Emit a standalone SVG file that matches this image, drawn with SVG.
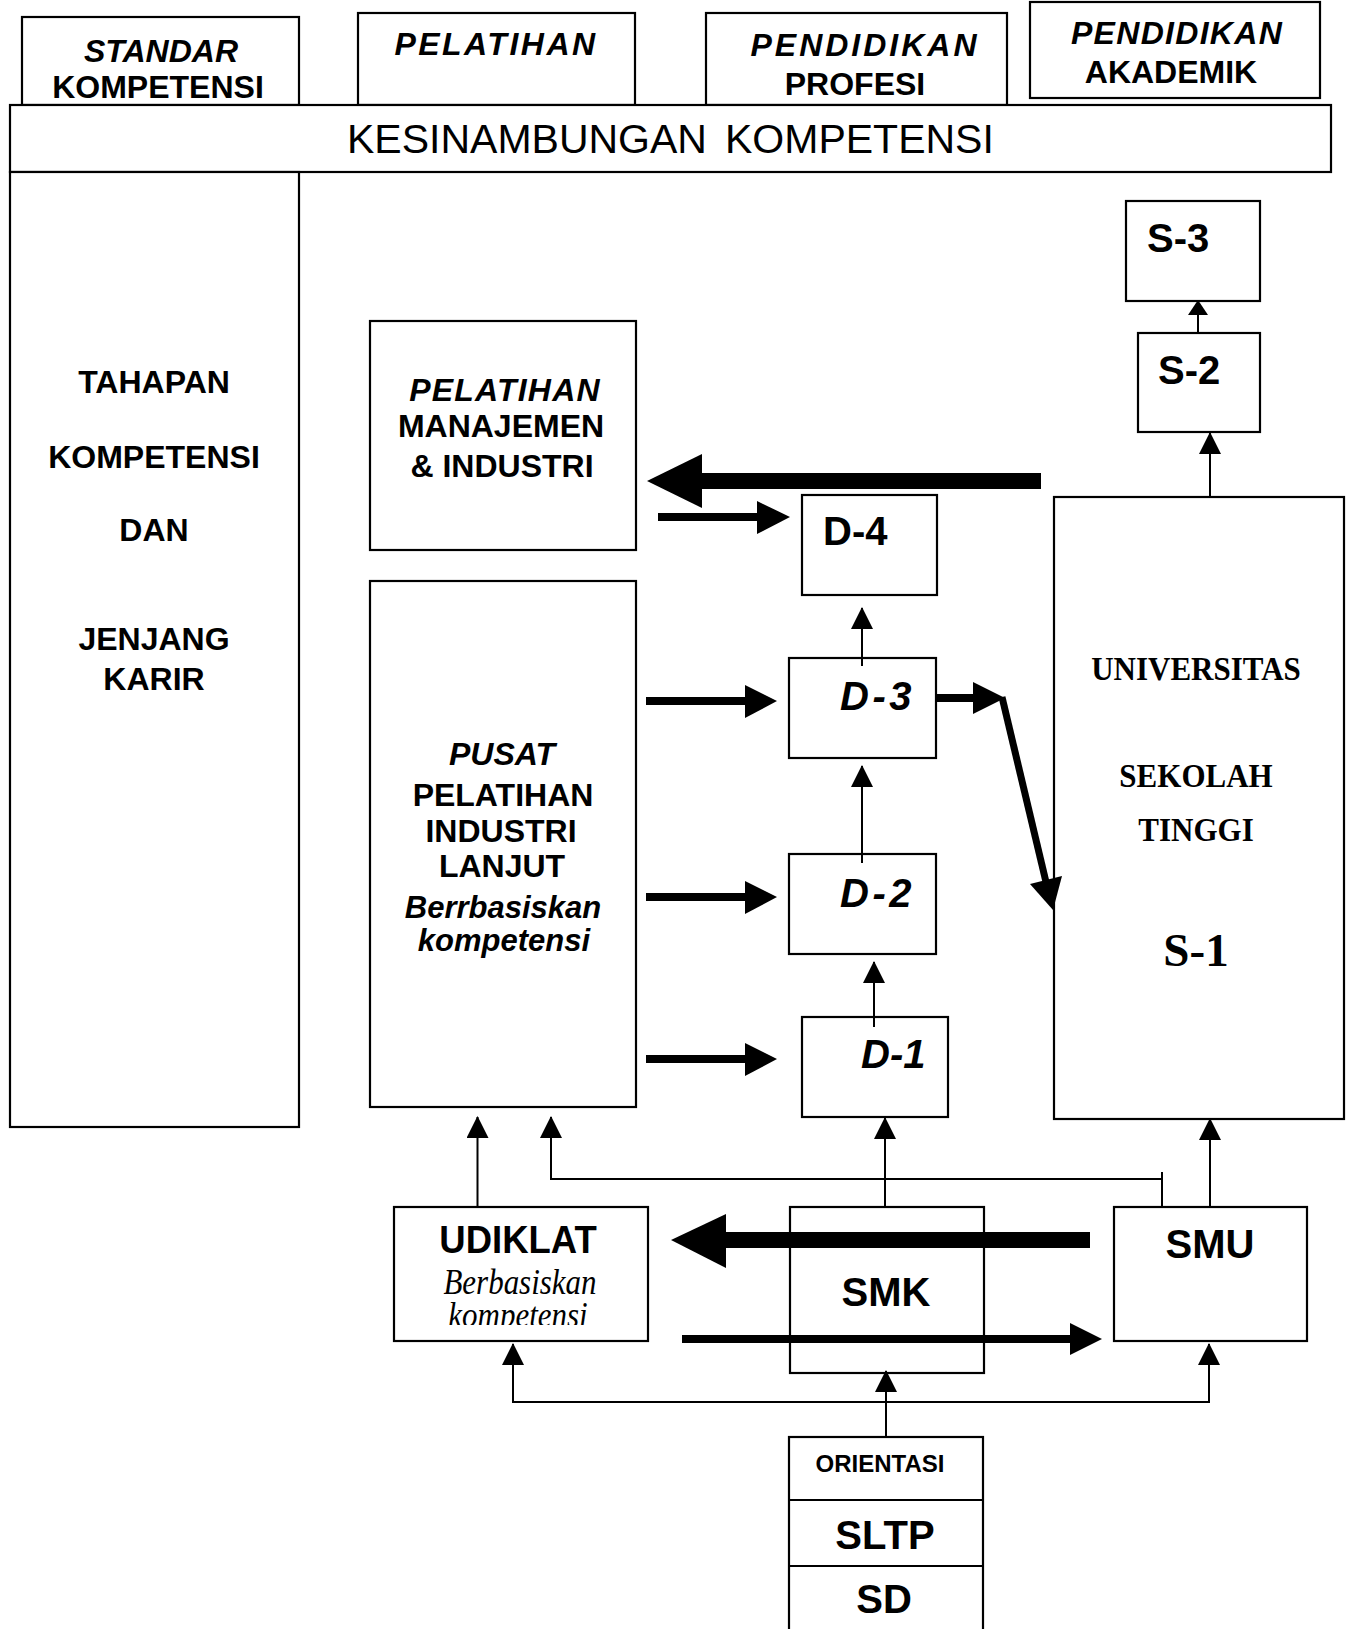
<svg xmlns="http://www.w3.org/2000/svg" width="1348" height="1629" viewBox="0 0 1348 1629">
<style>
.box{fill:#fff;stroke:#000;stroke-width:2.2}
.ln{fill:none;stroke:#000;stroke-width:2}
.thick{fill:#000;stroke:none}
.s{font-family:"Liberation Sans",Arial,sans-serif;font-weight:bold;fill:#000}
.r{font-family:"Liberation Sans",Arial,sans-serif;font-weight:normal;fill:#000}
.i{font-style:italic}
.t{font-family:"Liberation Serif","Times New Roman",serif;font-weight:bold;fill:#000}
.ti{font-family:"Liberation Serif","Times New Roman",serif;font-style:italic;fill:#000}
.c{text-anchor:middle}
.f32{font-size:32px}
.f40{font-size:40px}
</style>
<defs>
<marker id="ah" markerUnits="userSpaceOnUse" markerWidth="22" markerHeight="22" refX="21" refY="11" orient="auto">
<path d="M0,0 L22,11 L0,22 z" fill="#000"/>
</marker>
<marker id="ahs" markerUnits="userSpaceOnUse" markerWidth="15" markerHeight="20" refX="14" refY="10" orient="auto">
<path d="M0,0 L15,10 L0,20 z" fill="#000"/>
</marker>
<clipPath id="udclip"><rect x="394" y="1207" width="254" height="118"/></clipPath>
</defs>

<g id="standar">
<rect class="box" x="22" y="17" width="277" height="88"/>
<text class="s i f32 c" x="161" y="62">STANDAR</text>
<text class="s f32 c" x="158" y="98">KOMPETENSI</text>
</g>
<g id="pelatihan-top">
<rect class="box" x="358" y="13" width="277" height="92"/>
<text class="s i f32 c" x="496" y="55" letter-spacing="2.5">PELATIHAN</text>
</g>
<g id="pendidikan-profesi">
<rect class="box" x="706" y="13" width="301" height="92"/>
<text class="s i f32 c" x="865" y="56" letter-spacing="3">PENDIDIKAN</text>
<text class="s f32 c" x="855" y="95">PROFESI</text>
</g>
<g id="pendidikan-akademik">
<rect class="box" x="1030" y="2" width="290" height="96"/>
<text class="s i f32 c" x="1177" y="44" letter-spacing="1.3">PENDIDIKAN</text>
<text class="s f32 c" x="1171" y="83">AKADEMIK</text>
</g>
<g id="kesinambungan">
<rect class="box" x="10" y="105" width="1321" height="67"/>
<text class="r" font-size="41" y="153"><tspan x="347">KESINAMBUNGAN</tspan><tspan x="725">KOMPETENSI</tspan></text>
</g>
<g id="tahapan">
<rect class="box" x="10" y="172" width="289" height="955"/>
<text class="s f32 c" x="154" y="393">TAHAPAN</text>
<text class="s f32 c" x="154" y="468">KOMPETENSI</text>
<text class="s f32 c" x="154" y="541">DAN</text>
<text class="s f32 c" x="154" y="650">JENJANG</text>
<text class="s f32 c" x="154" y="690">KARIR</text>
</g>
<g id="pelatihan-manajemen">
<rect class="box" x="370" y="321" width="266" height="229"/>
<text class="s i f32 c" x="505" y="401" letter-spacing="1.2">PELATIHAN</text>
<text class="s f32 c" x="501" y="437">MANAJEMEN</text>
<text class="s f32 c" x="502" y="477">&amp; INDUSTRI</text>
</g>
<g id="pusat">
<rect class="box" x="370" y="581" width="266" height="526"/>
<text class="s i f32 c" x="502" y="765">PUSAT</text>
<text class="s f32 c" x="503" y="806">PELATIHAN</text>
<text class="s f32 c" x="501" y="842">INDUSTRI</text>
<text class="s f32 c" x="502" y="877">LANJUT</text>
<text class="s i c" font-size="31" x="503" y="918">Berrbasiskan</text>
<text class="s i c" font-size="31" x="504" y="951">kompetensi</text>
</g>
<g id="d4">
<rect class="box" x="802" y="495" width="135" height="100"/>
<text class="s f40" x="823" y="545">D-4</text>
</g>
<g id="d3">
<rect class="box" x="789" y="658" width="147" height="100"/>
<text class="s i f40" x="840" y="710" letter-spacing="3.5">D-3</text>
</g>
<g id="d2">
<rect class="box" x="789" y="854" width="147" height="100"/>
<text class="s i f40" x="840" y="907" letter-spacing="3.5">D-2</text>
</g>
<g id="d1">
<rect class="box" x="802" y="1017" width="146" height="100"/>
<text class="s i f40" x="861" y="1068">D-1</text>
</g>
<g id="s3">
<rect class="box" x="1126" y="201" width="134" height="100"/>
<text class="s f40" x="1147" y="252">S-3</text>
</g>
<g id="s2">
<rect class="box" x="1138" y="333" width="122" height="99"/>
<text class="s f40" x="1158" y="384">S-2</text>
</g>
<g id="universitas">
<rect class="box" x="1054" y="497" width="290" height="622"/>
<text class="t c" font-size="31" transform="translate(1196,680) scale(1,1.08)">UNIVERSITAS</text>
<text class="t c" font-size="31" transform="translate(1196,787) scale(1,1.08)">SEKOLAH</text>
<text class="t c" font-size="31" transform="translate(1196,841) scale(1,1.08)">TINGGI</text>
<text class="t c" font-size="47" x="1196" y="966">S-1</text>
</g>
<g id="udiklat">
<rect class="box" x="394" y="1207" width="254" height="134"/>
<text class="s c" font-size="36.5" transform="translate(518,1253) scale(1,1.07)">UDIKLAT</text>
<g clip-path="url(#udclip)">
<text class="ti c" font-size="31" transform="translate(520,1294) scale(1,1.15)">Berbasiskan</text>
<text class="ti c" font-size="31" transform="translate(518,1327) scale(1,1.15)">kompetensi</text>
</g>
</g>
<g id="smk">
<rect class="box" x="790" y="1207" width="194" height="166"/>
<text class="s f40 c" x="886" y="1306">SMK</text>
</g>
<g id="smu">
<rect class="box" x="1114" y="1207" width="193" height="134"/>
<text class="s f40 c" x="1210" y="1258">SMU</text>
</g>
<g id="orientasi-sltp-sd">
<rect class="box" x="789" y="1437" width="194" height="210"/>
<line class="ln" x1="789" y1="1500" x2="983" y2="1500"/>
<line class="ln" x1="789" y1="1566" x2="983" y2="1566"/>
<text class="s c" font-size="24" x="880" y="1472">ORIENTASI</text>
<text class="s f40 c" x="885" y="1549">SLTP</text>
<text class="s f40 c" x="884" y="1613">SD</text>
</g>

<g id="connectors">
<line class="ln" x1="1198" y1="333" x2="1198" y2="301" marker-end="url(#ahs)"/>
<line class="ln" x1="1210" y1="497" x2="1210" y2="433" marker-end="url(#ah)"/>
<line class="ln" x1="862" y1="666" x2="862" y2="608" marker-end="url(#ah)"/>
<line class="ln" x1="862" y1="863" x2="862" y2="766" marker-end="url(#ah)"/>
<line class="ln" x1="874" y1="1027" x2="874" y2="962" marker-end="url(#ah)"/>
<line class="ln" x1="477.5" y1="1207" x2="477.5" y2="1117" marker-end="url(#ah)"/>
<path class="ln" d="M1162,1207 V1172"/>
<path class="ln" d="M1162,1179 H551 V1117" marker-end="url(#ah)"/>
<line class="ln" x1="885" y1="1207" x2="885" y2="1118" marker-end="url(#ah)"/>
<line class="ln" x1="1210" y1="1207" x2="1210" y2="1119" marker-end="url(#ah)"/>
<line class="ln" x1="886" y1="1437" x2="886" y2="1371" marker-end="url(#ah)"/>
<path class="ln" d="M886,1402 H513 V1344" marker-end="url(#ah)"/>
<path class="ln" d="M886,1402 H1209 V1344" marker-end="url(#ah)"/>
<rect class="thick" x="701" y="473" width="340" height="16"/>
<polygon class="thick" points="647,481 702,454 702,508"/>
<rect class="thick" x="658" y="513" width="100" height="8"/>
<polygon class="thick" points="757,501 790,517 757,534"/>
<rect class="thick" x="646" y="697" width="100" height="8"/>
<polygon class="thick" points="745,685 777,701 745,718"/>
<rect class="thick" x="646" y="893" width="100" height="8"/>
<polygon class="thick" points="745,881 777,897 745,914"/>
<rect class="thick" x="646" y="1055" width="100" height="8"/>
<polygon class="thick" points="745,1043 777,1059 745,1076"/>
<rect class="thick" x="935" y="694" width="39" height="8"/>
<polygon class="thick" points="973,682 1005,698 973,714"/>
<line x1="1002" y1="697" x2="1046" y2="882" stroke="#000" stroke-width="7"/>
<polygon class="thick" points="1053,910 1030,884 1062,876"/>
<rect class="thick" x="725" y="1232" width="365" height="16"/>
<polygon class="thick" points="671,1240 726,1214 726,1268"/>
<rect class="thick" x="682" y="1335" width="390" height="8"/>
<polygon class="thick" points="1070,1323 1102,1339 1070,1355"/>
</g>
</svg>
